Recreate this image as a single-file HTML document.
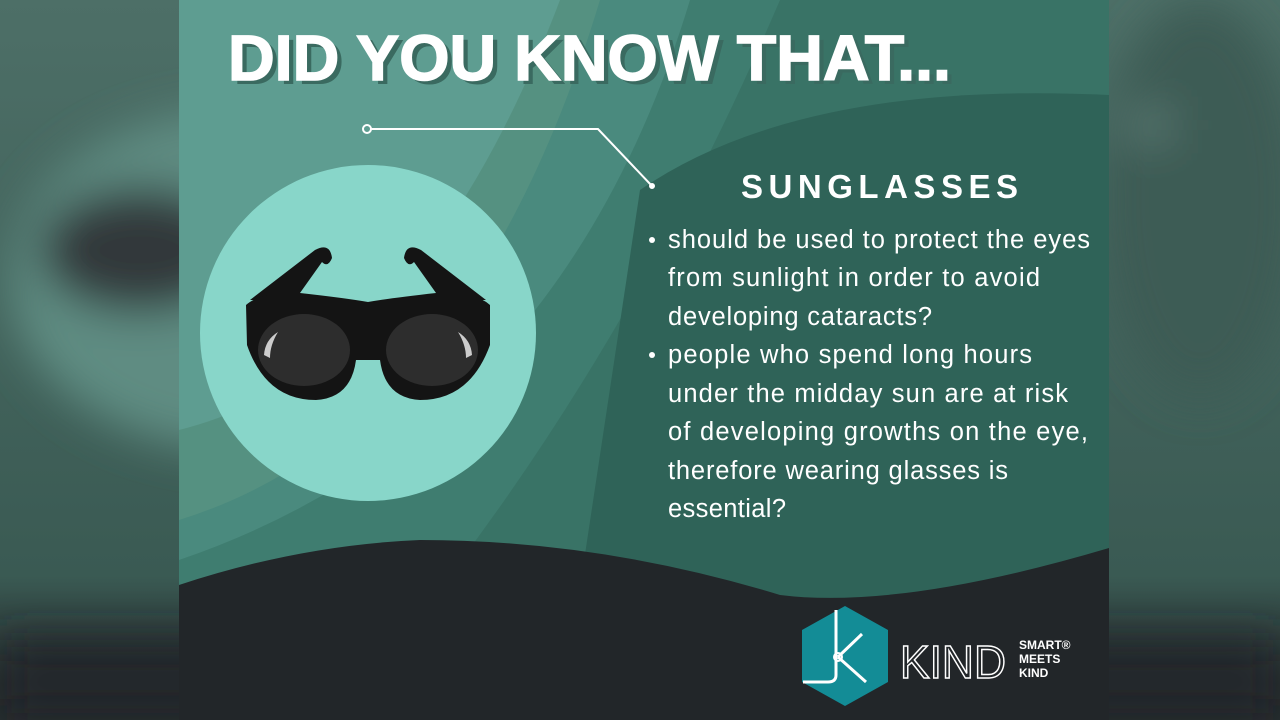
<!DOCTYPE html>
<html><head><meta charset="utf-8"><style>
html,body{margin:0;padding:0;width:1280px;height:720px;overflow:hidden;background:#2a3b38}
svg{display:block}
text{font-family:"Liberation Sans",sans-serif}
</style></head><body>
<svg width="1280" height="720" viewBox="0 0 1280 720">
<defs>
<filter id="bl" x="-50%" y="-50%" width="200%" height="200%"><feGaussianBlur stdDeviation="22"/></filter>
<clipPath id="pc"><rect x="179" y="0" width="930" height="720"/></clipPath>
<linearGradient id="side" x1="0" y1="0" x2="0" y2="1"><stop offset="0" stop-color="#4d6f67"/><stop offset="0.8" stop-color="#3a5a53"/><stop offset="0.95" stop-color="#25292c"/></linearGradient>
</defs>
<g>
<rect x="0" y="0" width="1280" height="720" fill="url(#side)"/>
<g filter="url(#bl)">
<ellipse cx="240" cy="280" rx="230" ry="170" fill="#5f8c82"/>
<ellipse cx="140" cy="250" rx="100" ry="62" fill="#33393a"/>
<rect x="0" y="640" width="1280" height="80" fill="#24282b"/>
<ellipse cx="1200" cy="200" rx="100" ry="200" fill="#3d5c55"/>
<rect x="1130" y="110" width="40" height="30" fill="#5d7d76"/>
</g>
</g>
<g clip-path="url(#pc)">
<rect x="179" y="0" width="930" height="720" fill="#5e9d91"/>
<path d="M179 430 Q420 370 560 0 L1109 0 L1109 720 L179 720Z" fill="#54907f" opacity="0.9"/>
<path d="M179 520 Q470 430 600 0 L1109 0 L1109 720 L179 720Z" fill="#4a8a7e"/>
<path d="M179 560 Q560 430 690 0 L1109 0 L1109 720 L179 720Z" fill="#3f7d70"/>
<path d="M330 720 Q600 420 780 0 L1109 0 L1109 720Z" fill="#397366"/>
<path d="M640 190 Q800 80 1109 95 L1109 720 L560 720Z" fill="#2f6358"/>
<circle cx="368" cy="333" r="168" fill="#88d6c9"/>
<path d="M179 585 Q300 545 420 540 Q600 540 780 595 Q900 610 1109 548 L1109 720 L179 720Z" fill="#222629"/>
</g>
<g>
<path d="M250 300 L315 250 Q330 242 332 258 Q328 268 322 262 L295 300Z" fill="#141414"/>
<path d="M486 300 L421 250 Q406 242 404 258 Q408 268 414 262 L441 300Z" fill="#141414"/>
<path d="M246 305 Q260 292 300 293 Q345 298 368 302 Q391 298 436 293 Q476 292 490 305 L490 345 Q470 400 420 400 Q385 398 380 360 L356 360 Q351 398 316 400 Q266 400 247 345Z" fill="#141414"/>
<ellipse cx="304" cy="350" rx="46" ry="36" fill="#2d2d2d"/>
<ellipse cx="432" cy="350" rx="46" ry="36" fill="#2d2d2d"/>
<path d="M264 355 Q265 340 278 332 Q270 345 270 358Z" fill="#ccc"/>
<path d="M472 355 Q471 340 458 332 Q466 345 466 358Z" fill="#ccc"/>
</g>
<text x="233" y="84" font-size="64" font-weight="bold" fill="#3a6a60" textLength="723" lengthAdjust="spacingAndGlyphs">DID YOU KNOW THAT...</text>
<text x="228" y="80" font-size="64" font-weight="bold" fill="#ffffff" stroke="#fff" stroke-width="1.5" textLength="723" lengthAdjust="spacingAndGlyphs">DID YOU KNOW THAT...</text>
<g stroke="#fff" stroke-width="2" fill="none">
<circle cx="367" cy="129" r="4"/>
<path d="M371 129 L598 129 L652 186"/>
<circle cx="652" cy="186" r="2" fill="#fff"/>
</g>
<text x="741" y="198" font-size="33" font-weight="bold" fill="#fff" textLength="277" lengthAdjust="spacing">SUNGLASSES</text>
<g font-size="25.5" fill="#fff">
<circle cx="652" cy="240" r="3" fill="#fff"/>
<text x="668" y="248" textLength="422" lengthAdjust="spacing">should be used to protect the eyes</text>
<text x="668" y="286" textLength="372" lengthAdjust="spacing">from sunlight in order to avoid</text>
<text x="668" y="325" textLength="264" lengthAdjust="spacing">developing cataracts?</text>
<circle cx="652" cy="355" r="3" fill="#fff"/>
<text x="668" y="363" textLength="364" lengthAdjust="spacing">people who spend long hours</text>
<text x="668" y="402" textLength="400" lengthAdjust="spacing">under the midday sun are at risk</text>
<text x="668" y="440" textLength="420" lengthAdjust="spacing">of developing growths on the eye,</text>
<text x="668" y="479" textLength="340" lengthAdjust="spacing">therefore wearing glasses is</text>
<text x="668" y="517" textLength="118" lengthAdjust="spacing">essential?</text>
</g>
<g>
<path d="M845 606 L888 630 L888 682 L845 706 L802 682 L802 630Z" fill="#138c96"/>
<path d="M836 610 L836 675 Q836 682 828 682 L803 682" stroke="#fff" stroke-width="3" fill="none"/>
<path d="M838 657 L862 634 M838 657 L866 682" stroke="#fff" stroke-width="3" fill="none"/>
<circle cx="838" cy="657" r="4" fill="none" stroke="#fff" stroke-width="2"/>
<text x="900" y="678" font-size="46" fill="none" stroke="#fff" stroke-width="1.5" textLength="106" lengthAdjust="spacingAndGlyphs">KIND</text>
<text x="1019" y="649" font-size="12" font-weight="bold" fill="#fff">SMART®</text>
<text x="1019" y="663" font-size="12" font-weight="bold" fill="#fff">MEETS</text>
<text x="1019" y="677" font-size="12" font-weight="bold" fill="#fff">KIND</text>
</g>
</svg>
</body></html>
